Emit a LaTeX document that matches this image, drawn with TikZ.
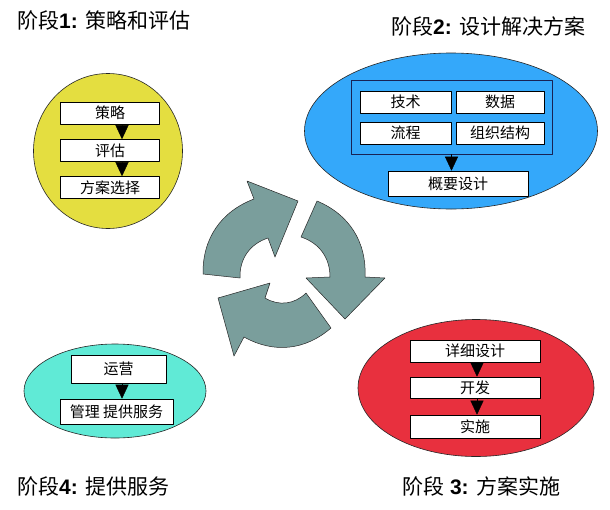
\documentclass[tikz,border=0pt]{standalone}
\usepackage{fontspec}
\setmainfont{Liberation Sans}
\newfontfamily\cjk{Noto Sans CJK SC}
\usetikzlibrary{shapes.geometric,arrows.meta}
\definecolor{phaseyellow}{RGB}{228,222,64}
\definecolor{phaseblue}{RGB}{52,168,250}
\definecolor{phasecyan}{RGB}{96,234,214}
\definecolor{phasered}{RGB}{232,48,62}
\definecolor{framenavy}{RGB}{24,34,84}
\definecolor{cyclegray}{RGB}{122,158,156}
\begin{document}
\begin{tikzpicture}[x=1pt,y=-1pt,line cap=round,line join=round,
		phase/.style={ellipse,draw=black!85,line width=.6pt,inner sep=0pt},
		stepbox/.style={draw=black,fill=white,line width=.6pt,inner sep=0pt,font=\cjk\fontsize{15}{18}\selectfont},
		flow/.style={-{Triangle[length=14pt,width=13pt]},line width=.4pt},
		title/.style={anchor=west,inner sep=0pt,font=\fontsize{21}{25}\selectfont},
		cyclearrow/.style={fill=cyclegray,draw=black!85,line width=.5pt}]
	\path[use as bounding box,fill=white] (0,0) rectangle (610,509);
	% titles
	\node[title] (t1) at (17,20) {{\cjk 阶段}\textbf{1:} {\cjk 策略和评估}};
	\node[title] (t2) at (391,26) {{\cjk 阶段}\textbf{2:} {\cjk 设计解决方案}};
	\node[title] (t3) at (402,486) {{\cjk 阶段} \textbf{3:} {\cjk 方案实施}};
	\node[title] (t4) at (17,486) {{\cjk 阶段}\textbf{4:} {\cjk 提供服务}};
	% phase 1
	\node[phase,fill=phaseyellow,minimum width=149pt,minimum height=155pt] (p1) at (108,151) {};
	\node[stepbox,minimum width=99pt,minimum height=22pt] (s1) at (110,113) {策略};
	\node[stepbox,minimum width=99pt,minimum height=22pt] (s2) at (110,150.5) {评估};
	\node[stepbox,minimum width=99pt,minimum height=22pt] (s3) at (110,187.5) {方案选择};
	\draw[flow] ([xshift=12pt]s1.south) -- ([xshift=12pt]s1.south |- s2.north);
	\draw[flow] ([xshift=12pt]s2.south) -- ([xshift=12pt]s2.south |- s3.north);
	% phase 2
	\node[phase,fill=phaseblue,minimum width=293pt,minimum height=156pt] (p2) at (451,131) {};
	\node[draw=framenavy,fill=phaseblue,line width=.8pt,inner sep=0pt,minimum width=201pt,minimum height=74pt] (d0) at (451.5,117) {};
	\node[stepbox,minimum width=91pt,minimum height=22pt] (d1) at (405.5,102) {技术};
	\node[stepbox,minimum width=88pt,minimum height=22pt] (d2) at (500,102) {数据};
	\node[stepbox,minimum width=91pt,minimum height=22pt] (d3) at (405.5,133) {流程};
	\node[stepbox,minimum width=88pt,minimum height=22pt] (d4) at (500,133) {组织结构};
	\node[stepbox,minimum width=140pt,minimum height=25pt] (d5) at (458,183.5) {概要设计};
	\draw[flow] (d0.south) -- (d0.south |- d5.north);
	% phase 3
	\node[phase,fill=phasered,minimum width=236pt,minimum height=137pt] (p3) at (476,388) {};
	\node[stepbox,minimum width=130pt,minimum height=22pt] (r1) at (475,351) {详细设计};
	\node[stepbox,minimum width=130pt,minimum height=21pt] (r2) at (475,387.5) {开发};
	\node[stepbox,minimum width=130pt,minimum height=23pt] (r3) at (475,426.5) {实施};
	\draw[flow] ([xshift=2pt]r1.south) -- ([xshift=2pt]r1.south |- r2.north);
	\draw[flow] ([xshift=2pt]r2.south) -- ([xshift=2pt]r2.south |- r3.north);
	% phase 4
	\node[phase,fill=phasecyan,minimum width=182pt,minimum height=94pt] (p4) at (115,391) {};
	\node[stepbox,minimum width=95pt,minimum height=28pt] (o1) at (118.5,369) {运营};
	\node[stepbox,minimum width=113pt,minimum height=25pt] (o2) at (116.5,411.5) {管理 提供服务};
	\draw[flow] ([xshift=3.5pt]o1.south) -- ([xshift=3.5pt]o1.south |- o2.north);
	% cycle
	\draw[cyclearrow] (203,274) to[bend left=35] (254,199) -- (247,181) -- (298,201) -- (275,257) -- (268,238) to[bend right=37] (240,278) -- cycle;
	\draw[cyclearrow] (317,201) to[bend left=35] (365,277) -- (385,278) -- (345,319) -- (306,278) -- (330,277) to[bend right=36] (301,237) -- cycle;
	\draw[cyclearrow] (331,328) to[bend left=35] (244,337) -- (234,356) -- (218,298) -- (270,283) -- (265,298) to[bend right=38] (306,293) -- cycle;
\end{tikzpicture}
\end{document}
